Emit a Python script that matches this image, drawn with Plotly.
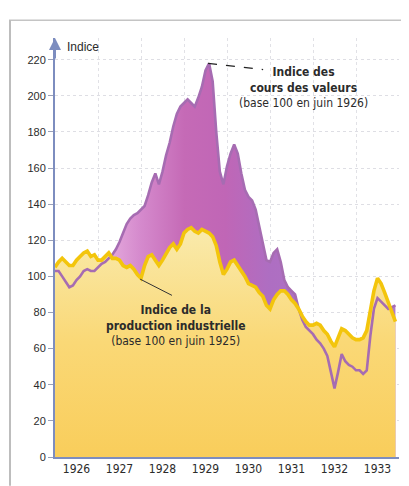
import plotly.graph_objects as go

# Monthly data, Jan 1926 .. Dec 1933
start_year = 1926
years = [1926, 1927, 1928, 1929, 1930, 1931, 1932, 1933]
year_labels = ["1926", "1927", "1928", "1929", "1930", "1931", "1932", "1933"]
y_ticks = [0, 20, 40, 60, 80, 100, 120, 140, 160, 180, 200, 220]

# Indice des cours des valeurs (base 100 en juin 1926)
cours_valeurs = [
    103, 103, 100, 97, 94, 95, 98, 100, 103, 104, 103, 103,      # 1926
    105, 107, 108, 110, 112, 115, 119, 124, 129, 132, 134, 135,  # 1927
    137, 139, 145, 152, 157, 151, 158, 167, 174, 183, 190, 194,  # 1928
    196, 198, 196, 194, 199, 205, 214, 218, 208, 180, 158, 151,  # 1929
    161, 168, 173, 168, 157, 148, 144, 142, 137, 128, 118, 109,  # 1930
    108, 113, 115, 108, 98, 94, 92, 90, 82, 76, 72, 70,          # 1931
    68, 65, 63, 60, 56, 47, 38, 47, 57, 53, 51, 50,              # 1932
    48, 48, 46, 48, 67, 82, 88, 86, 84, 82, 83, 84,              # 1933
]

# Indice de la production industrielle (base 100 en juin 1925)
production = [
    105, 108, 110, 108, 106, 106, 109, 111, 113, 114, 111, 112,  # 1926
    109, 109, 111, 113, 110, 110, 109, 106, 105, 106, 104, 101,  # 1927
    99, 106, 111, 112, 109, 106, 109, 113, 116, 118, 115, 118,   # 1928
    124, 126, 127, 125, 124, 126, 125, 124, 122, 117, 108, 101,  # 1929
    104, 108, 109, 106, 103, 100, 96, 95, 94, 91, 89, 84,        # 1930
    82, 87, 90, 92, 92, 90, 87, 85, 82, 78, 75, 73,              # 1931
    73, 74, 73, 70, 68, 64, 61, 66, 71, 70, 68, 66,              # 1932
    65, 65, 66, 70, 81, 92, 99, 96, 91, 86, 81, 75,              # 1933
]

t = [start_year + m / 12 for m in range(len(production))]

FONT_N = "DejaVu Sans Condensed, Liberation Sans Narrow, Arial Narrow, sans-serif"
FONT = "Liberation Sans, Arial, sans-serif"
AXIS_C = "#7D8DBF"
TXT = "#2b2b2b"

fig = go.Figure()

# purple area (stock index)
fig.add_trace(go.Scatter(
    x=t, y=cours_valeurs, mode="lines", line=dict(width=0),
    fill="tozeroy",
    fillgradient=dict(
        type="horizontal",
        colorscale=[[0.0, "#EDC3E8"], [0.12, "#EAB6E3"], [0.25, "#D58ACD"],
                    [0.38, "#C56AB6"], [0.5, "#C066B6"], [0.63, "#AE6EC2"],
                    [1.0, "#B07AC6"]],
    ),
    hoverinfo="skip", showlegend=False,
))

# yellow area (production)
fig.add_trace(go.Scatter(
    x=t, y=production, mode="lines", line=dict(width=0),
    fill="tozeroy",
    fillgradient=dict(
        type="vertical", start=0, stop=130,
        colorscale=[[0.0, "#F9CD5A"], [0.5, "#FAD876"], [1.0, "#F9EBAE"]],
    ),
    hoverinfo="skip", showlegend=False,
))

# purple line
fig.add_trace(go.Scatter(
    x=t, y=cours_valeurs, mode="lines",
    line=dict(color="#A66CB2", width=2.6),
    hoverinfo="skip", showlegend=False,
))

# yellow line
fig.add_trace(go.Scatter(
    x=t, y=production, mode="lines",
    line=dict(color="#F3C50C", width=3.6),
    hoverinfo="skip", showlegend=False,
))

annotations = [
    dict(x=0.03, y=0.979, xref="paper", yref="paper", xanchor="left", yanchor="middle",
         text="Indice", showarrow=False, font=dict(family=FONT, size=12, color=TXT)),
    dict(x=1931.77, y=204.5, xref="x", yref="y", xanchor="center", yanchor="middle",
         text="<b>Indice des</b><br><b>cours des valeurs</b><br>(base 100 en juin 1926)",
         showarrow=False, align="center",
         font=dict(family=FONT_N, size=12, color=TXT)),
    dict(x=1928.81, y=73, xref="x", yref="y", xanchor="center", yanchor="middle",
         text="<b>Indice de la</b><br><b>production industrielle</b><br>(base 100 en juin 1925)",
         showarrow=False, align="center",
         font=dict(family=FONT_N, size=12, color=TXT)),
    # y-axis arrow head
    dict(x=1926, y=232, xref="x", yref="y", ax=0, ay=22, axref="pixel", ayref="pixel",
         showarrow=True, arrowhead=2, arrowsize=1.2, arrowwidth=2, arrowcolor=AXIS_C, text=""),
]

shapes = [
    # dashed leader to the 1929 peak
    dict(type="line", xref="x", yref="y", x0=1929.56, y0=218, x1=1930.84, y1=214.5,
         line=dict(color="#222222", width=1.3, dash="dash")),
    # leader to production curve
    dict(type="line", xref="x", yref="y", x0=1927.98, y0=98.5, x1=1928.72, y1=89.5,
         line=dict(color="#333333", width=1)),
    # page frame
    dict(type="line", xref="paper", yref="paper", x0=(9 - 55) / 344, x1=(407 - 55) / 344,
         y0=(461 - 20) / 423, y1=(461 - 20) / 423, line=dict(color="#C4C4C4", width=1.5)),
    dict(type="line", xref="paper", yref="paper", x0=(10 - 55) / 344, x1=(10 - 55) / 344,
         y0=(461 - 20) / 423, y1=(461 - 490) / 423, line=dict(color="#BDBDBD", width=2)),
    dict(type="line", xref="paper", yref="paper", x0=(406 - 55) / 344, x1=(406 - 55) / 344,
         y0=(461 - 20) / 423, y1=(461 - 490) / 423, line=dict(color="#D8D8D8", width=1)),
]

# the page body adds an 8px offset, so the figure is sized 8px smaller
fig.update_layout(
    width=401, height=478,
    margin=dict(l=47, r=10, t=30, b=25),
    paper_bgcolor="white", plot_bgcolor="white",
    showlegend=False,
    annotations=annotations,
    shapes=shapes,
    xaxis=dict(
        range=[1926, 1934], fixedrange=True,
        tickmode="array", tickvals=[y + 0.5 for y in years], ticktext=year_labels,
        ticks="", showgrid=False, zeroline=False,
        showline=True, linecolor=AXIS_C, linewidth=2,
        tickfont=dict(family=FONT_N, size=12, color=TXT),
        minor=dict(tickvals=years[1:], showgrid=True, gridcolor="rgba(200,200,210,0.55)",
                   griddash="dot", gridwidth=1, ticks=""),
    ),
    yaxis=dict(
        range=[0, 232], fixedrange=True,
        tickmode="array", tickvals=y_ticks, ticktext=[str(v) for v in y_ticks],
        ticks="outside", ticklen=5, tickcolor="#9AA0B8", tickwidth=1,
        showgrid=True, gridcolor="rgba(200,200,210,0.6)", griddash="dot", gridwidth=1,
        zeroline=False, showline=True, linecolor=AXIS_C, linewidth=2,
        tickfont=dict(family=FONT, size=11, color=TXT),
    ),
)

fig.write_html("out.html")
